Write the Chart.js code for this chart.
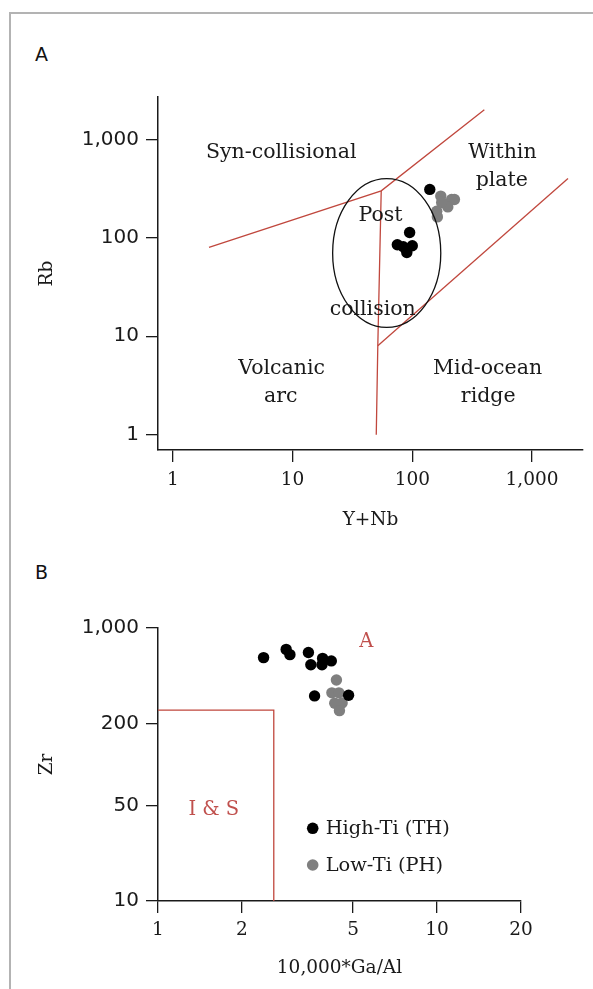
<!DOCTYPE html>
<html>
<head>
<meta charset="utf-8">
<script src="https://cdn.jsdelivr.net/npm/chart.js@4"></script>
<style>
  html, body { margin: 0; padding: 0; background: #fff; width: 593px; height: 989px; overflow: hidden; }
  #frame { position: absolute; left: 9px; top: 12px; width: 620px; height: 1000px;
           border-left: 2px solid #b3b3b3; border-top: 2px solid #b3b3b3; }
  .panel { position: absolute; left: 0; width: 593px; }
  #boxA { top: 0; height: 540px; }
  #boxB { top: 540px; height: 449px; }
  .tag { position: absolute; left: 35px; font: 19px 'DejaVu Sans', sans-serif; color: #111; line-height: 22px; }
</style>
</head>
<body>
<div id="frame"></div>
<div class="tag" style="top:43px">A</div>
<div class="tag" style="top:561px">B</div>
<div class="panel" id="boxA"><canvas id="chartA" width="593" height="540"></canvas></div>
<div class="panel" id="boxB"><canvas id="chartB" width="593" height="449"></canvas></div>

<script>
// ---------- Panel A: Rb vs Y+Nb discrimination diagram ----------
const highTiA_YNb = [140, 95, 75, 84, 100, 90];
const highTiA_Rb  = [310, 113, 85, 81, 83, 71];
const lowTiA_YNb  = [173, 213, 225, 198, 176, 160, 162];
const lowTiA_Rb   = [265, 245, 245, 206, 228, 186, 163];

// field boundaries (Y+Nb, Rb)
const synVagYNb = [2, 55, 400];
const synVagRb  = [80, 300, 2000];
const vagOrgYNb = [55, 51.5, 50];
const vagOrgRb  = [300, 8, 1];
const wpgOrgYNb = [51.5, 2000];
const wpgOrgRb  = [8, 400];

// post-collision field, given by its extent on both axes
const postColYNb = [21.6, 173];
const postColRb  = [12.3, 399];

const xTicksA = [1, 10, 100, 1000];
const yTicksA = [1, 10, 100, 1000];
const xRangeA = [0.75, 2670];
const yRangeA = [0.7, 2690];

const fieldNamesA = ['Syn-collisional', 'Within', 'plate', 'Post', 'collision', 'Volcanic', 'arc', 'Mid-ocean', 'ridge'];
const fieldYNbA   = [8.03, 566, 560, 54.2, 46.7, 8.1, 7.95, 426, 431];
const fieldRbA    = [737, 737, 383, 169, 18.5, 4.7, 2.44, 4.7, 2.44];

// ---------- Panel B: Zr vs 10,000*Ga/Al ----------
const highTiB_GaAl = [2.39, 2.88, 2.97, 3.46, 3.53, 3.89, 3.87, 4.18, 3.64, 4.82];
const highTiB_Zr   = [607, 697, 638, 661, 538, 599, 538, 574, 318, 322];
const lowTiB_GaAl  = [4.36, 4.20, 4.45, 4.30, 4.57, 4.47];
const lowTiB_Zr    = [416, 335, 335, 281, 282, 248];

// I & S type field limit
const isFieldGaAl = [1, 2.6, 2.6];
const isFieldZr   = [250, 250, 10];

const xTicksB = [1, 2, 5, 10, 20];
const yTicksB = [10, 50, 200, 1000];
const xRangeB = [1, 20];
const yRangeB = [10, 1000];

const fieldNamesB = ['A', 'I & S'];
const fieldGaAlB  = [5.58, 1.585];
const fieldZrB    = [789, 46.4];

// ---------- styling ----------
const ink = '#1a1a1a';
const red = '#c0473d';
const redText = '#c0504d';
const grey = '#7f7f7f';
const serif = "'DejaVu Serif', serif";
const sans = "'DejaVu Sans', sans-serif";

const pts = (xs, ys) => xs.map((x, i) => ({ x, y: ys[i] }));

function logAxis({ range, ticks, isX, band, family, size, pad, title, titleGap }) {
  return {
    type: 'logarithmic',
    position: isX ? 'bottom' : 'left',
    min: range[0],
    max: range[1],
    afterBuildTicks: s => { s.ticks = ticks.map(v => ({ value: v })); },
    afterFit: s => { if (isX) s.height = band; else s.width = band; },
    ticks: {
      autoSkip: false, maxRotation: 0, minRotation: 0,
      padding: pad, color: ink,
      font: { family, size },
      callback: v => Number(v).toLocaleString('en-US')
    },
    grid: { display: true, drawOnChartArea: false, drawTicks: true, tickLength: 12, color: ink, lineWidth: 1.3 },
    border: { display: true, color: ink, width: 1.5 },
    title: {
      display: true, text: title, color: ink,
      font: { family: serif, size: 18.5 },
      padding: isX ? { top: 0, bottom: titleGap } : { top: titleGap, bottom: 0 }
    }
  };
}

function marks(label, xs, ys, colour, order, keyed) {
  return {
    label, data: pts(xs, ys), showLine: false, order, keyed,
    backgroundColor: colour, pointBackgroundColor: colour,
    pointBorderWidth: 0, pointRadius: 5.7, pointHoverRadius: 5.7
  };
}

function boundary(xs, ys, colour) {
  return {
    label: '', data: pts(xs, ys), showLine: true, order: 5,
    borderColor: colour, borderWidth: 1.3, pointRadius: 0, pointHoverRadius: 0, fill: false, tension: 0
  };
}

// text placed in data coordinates
const fieldText = {
  id: 'fieldText',
  afterDatasetsDraw(chart, args, opts) {
    const { ctx, scales: { x, y } } = chart;
    ctx.save();
    ctx.font = opts.font;
    ctx.fillStyle = opts.color;
    ctx.textAlign = 'center';
    ctx.textBaseline = 'middle';
    opts.names.forEach((t, i) => {
      ctx.fillText(t, x.getPixelForValue(opts.xs[i]), y.getPixelForValue(opts.ys[i]));
    });
    ctx.restore();
  }
};

// outline of the post-collision field
const fieldOutline = {
  id: 'fieldOutline',
  afterDatasetsDraw(chart, args, opts) {
    if (!opts.xs) return;
    const { ctx, scales: { x, y } } = chart;
    const x0 = x.getPixelForValue(opts.xs[0]), x1 = x.getPixelForValue(opts.xs[1]);
    const y0 = y.getPixelForValue(opts.ys[0]), y1 = y.getPixelForValue(opts.ys[1]);
    ctx.save();
    ctx.beginPath();
    ctx.ellipse((x0 + x1) / 2, (y0 + y1) / 2, Math.abs(x1 - x0) / 2, Math.abs(y1 - y0) / 2, 0, 0, Math.PI * 2);
    ctx.strokeStyle = '#111';
    ctx.lineWidth = 1.3;
    ctx.stroke();
    ctx.restore();
  }
};

// symbol key inside the plot area
const pointKey = {
  id: 'pointKey',
  afterDraw(chart, args, opts) {
    if (!opts.show) return;
    const { ctx, chartArea: { left, top } } = chart;
    const items = chart.data.datasets.filter(d => d.keyed);
    ctx.save();
    items.forEach((d, i) => {
      const cy = top + 200.3 + i * 36.7;
      ctx.beginPath();
      ctx.arc(left + 154.7, cy, 5.8, 0, Math.PI * 2);
      ctx.fillStyle = d.backgroundColor;
      ctx.fill();
      ctx.font = "19.4px " + serif;
      ctx.fillStyle = ink;
      ctx.textAlign = 'left';
      ctx.textBaseline = 'middle';
      ctx.fillText(d.label, left + 167.7, cy + 1);
    });
    ctx.restore();
  }
};

const common = {
  responsive: false,
  animation: false,
  events: [],
  plugins: { legend: { display: false }, tooltip: { enabled: false } }
};

new Chart(document.getElementById('chartA'), {
  type: 'scatter',
  data: {
    datasets: [
      marks('High-Ti (TH)', highTiA_YNb, highTiA_Rb, '#000', 0, true),
      marks('Low-Ti (PH)', lowTiA_YNb, lowTiA_Rb, grey, 1, true),
      boundary(synVagYNb, synVagRb, red),
      boundary(vagOrgYNb, vagOrgRb, red),
      boundary(wpgOrgYNb, wpgOrgRb, red)
    ]
  },
  options: {
    ...common,
    layout: { padding: { top: 97, right: 10, left: 0, bottom: 0 } },
    scales: {
      x: logAxis({ range: xRangeA, ticks: xTicksA, isX: true, band: 90, family: serif, size: 18.5, pad: 7, title: 'Y+Nb', titleGap: 8.9 }),
      y: logAxis({ range: yRangeA, ticks: yTicksA, isX: false, band: 158, family: sans, size: 20, pad: 7, title: 'Rb', titleGap: 35.9 })
    },
    plugins: {
      ...common.plugins,
      fieldText: { names: fieldNamesA, xs: fieldYNbA, ys: fieldRbA, font: "20.5px " + serif, color: ink },
      fieldOutline: { xs: postColYNb, ys: postColRb },
      pointKey: { show: false }
    }
  },
  plugins: [fieldText, fieldOutline, pointKey]
});

new Chart(document.getElementById('chartB'), {
  type: 'scatter',
  data: {
    datasets: [
      marks('High-Ti (TH)', highTiB_GaAl, highTiB_Zr, '#000', 0, true),
      marks('Low-Ti (PH)', lowTiB_GaAl, lowTiB_Zr, grey, 1, true),
      boundary(isFieldGaAl, isFieldZr, red)
    ]
  },
  options: {
    ...common,
    layout: { padding: { top: 88, right: 72, left: 0, bottom: 0 } },
    scales: {
      x: logAxis({ range: xRangeB, ticks: xTicksB, isX: true, band: 88, family: serif, size: 18.5, pad: 6, title: '10,000*Ga/Al', titleGap: 9.9 }),
      y: logAxis({ range: yRangeB, ticks: yTicksB, isX: false, band: 158, family: sans, size: 20, pad: 7, title: 'Zr', titleGap: 35.9 })
    },
    plugins: {
      ...common.plugins,
      fieldText: { names: fieldNamesB, xs: fieldGaAlB, ys: fieldZrB, font: "19.5px " + serif, color: redText },
      fieldOutline: {},
      pointKey: { show: true }
    }
  },
  plugins: [fieldText, fieldOutline, pointKey]
});
</script>
</body>
</html>
